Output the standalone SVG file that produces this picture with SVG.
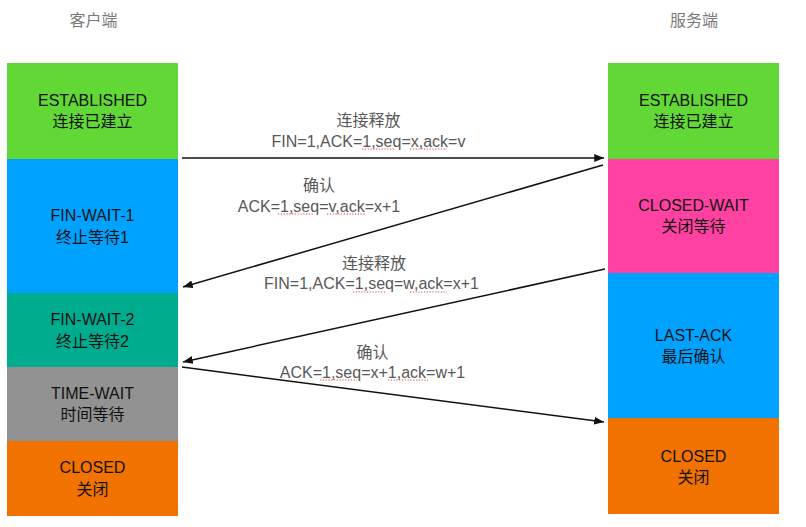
<svg xmlns="http://www.w3.org/2000/svg" width="806" height="527" viewBox="0 0 806 527">
<defs>
<style>
text{font-family:"Liberation Sans","Noto Sans CJK SC",sans-serif;font-size:16px;text-anchor:middle}
.st{fill:#111}
.lb{fill:#585858}
.hd{fill:#7a7a7a;font-size:16px}
.ln{stroke:#111;stroke-width:1.5;fill:none;marker-end:url(#ah)}
.sq{stroke:#e04040;stroke-width:1.2;stroke-dasharray:1.2 1.6;fill:none}
</style>
<marker id="ah" viewBox="0 0 10 8" refX="10" refY="4" markerWidth="6.5" markerHeight="5.2" orient="auto" markerUnits="strokeWidth">
<path d="M0,0 L10,4 L0,8 Z" fill="#111"/>
</marker>
</defs>
<rect width="806" height="527" fill="#fff"/>
<text class="hd" x="93.5" y="26">客户端</text>
<text class="hd" x="694" y="26">服务端</text>
<g id="c-established">
<rect x="7" y="63" width="171" height="96" fill="#61D836"/>
<text class="st" x="92.5" y="106">ESTABLISHED</text>
<text class="st" x="92.5" y="127">连接已建立</text>
</g>
<g id="c-finwait1">
<rect x="7" y="159" width="171" height="134" fill="#00A2FF"/>
<text class="st" x="92.5" y="221">FIN-WAIT-1</text>
<text class="st" x="92.5" y="243">终止等待1</text>
</g>
<g id="c-finwait2">
<rect x="7" y="293" width="171" height="74" fill="#00AC8E"/>
<text class="st" x="92.5" y="325">FIN-WAIT-2</text>
<text class="st" x="92.5" y="347">终止等待2</text>
</g>
<g id="c-timewait">
<rect x="7" y="367" width="171" height="74" fill="#929292"/>
<text class="st" x="92.5" y="399">TIME-WAIT</text>
<text class="st" x="92.5" y="420">时间等待</text>
</g>
<g id="c-closed">
<rect x="7" y="441" width="171" height="75" fill="#F27200"/>
<text class="st" x="92.5" y="473">CLOSED</text>
<text class="st" x="92.5" y="495">关闭</text>
</g>
<g id="s-established">
<rect x="608" y="63" width="171" height="96" fill="#61D836"/>
<text class="st" x="693.5" y="106">ESTABLISHED</text>
<text class="st" x="693.5" y="127">连接已建立</text>
</g>
<g id="s-closewait">
<rect x="608" y="159" width="171" height="114" fill="#FF42A1"/>
<text class="st" x="693.5" y="211">CLOSED-WAIT</text>
<text class="st" x="693.5" y="232">关闭等待</text>
</g>
<g id="s-lastack">
<rect x="608" y="273" width="171" height="145" fill="#00A2FF"/>
<text class="st" x="693.5" y="341">LAST-ACK</text>
<text class="st" x="693.5" y="362">最后确认</text>
</g>
<g id="s-closed">
<rect x="608" y="418" width="171" height="96" fill="#F27200"/>
<text class="st" x="693.5" y="462">CLOSED</text>
<text class="st" x="693.5" y="483">关闭</text>
</g>
<g id="connectors">
<line class="ln" x1="182" y1="158" x2="604" y2="158"/>
<line class="ln" x1="603" y1="165" x2="183" y2="287"/>
<line class="ln" x1="605" y1="269" x2="183" y2="362"/>
<line class="ln" x1="182" y1="367" x2="604" y2="422"/>
</g>
<g id="labels">
<text class="lb" x="368.5" y="126">连接释放</text>
<text class="lb" x="368.5" y="147">FIN=1,ACK=1,seq=x,ack=v</text>
<text class="lb" x="319" y="191">确认</text>
<text class="lb" x="319" y="212">ACK=1,seq=v,ack=x+1</text>
<text class="lb" x="374" y="269">连接释放</text>
<text class="lb" x="371.5" y="289">FIN=1,ACK=1,seq=w,ack=x+1</text>
<text class="lb" x="372.5" y="358">确认</text>
<text class="lb" x="372.5" y="378">ACK=1,seq=x+1,ack=w+1</text>
</g>
<g id="spellmarks">
<line class="sq" x1="362" y1="149" x2="395" y2="149"/>
<line class="sq" x1="410" y1="149" x2="447" y2="149"/>
<line class="sq" x1="278" y1="214" x2="313" y2="214"/>
<line class="sq" x1="327" y1="214" x2="365" y2="214"/>
<line class="sq" x1="353" y1="292" x2="385" y2="292"/>
<line class="sq" x1="410" y1="292" x2="447" y2="292"/>
<line class="sq" x1="320" y1="380" x2="357" y2="380"/>
<line class="sq" x1="388" y1="380" x2="428" y2="380"/>
</g>
</svg>
